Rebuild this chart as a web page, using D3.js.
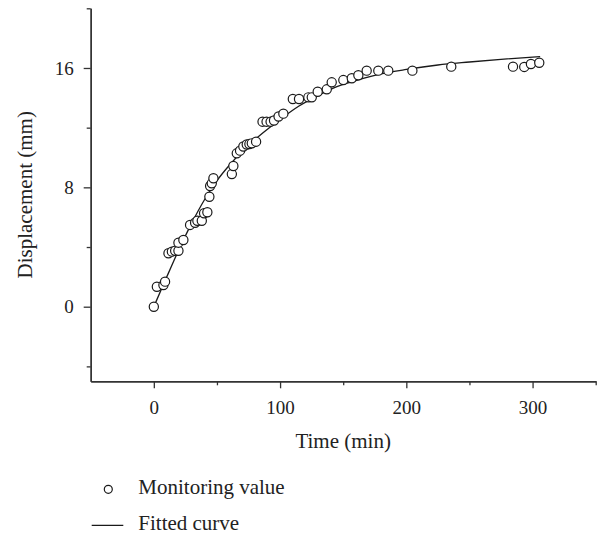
<!DOCTYPE html>
<html>
<head>
<meta charset="utf-8">
<script src="https://cdn.jsdelivr.net/npm/d3@7"></script>
<style>
  body { margin: 0; background: #fff; }
  text { font-family: "Liberation Serif", "DejaVu Serif", serif; fill: #222; }
</style>
</head>
<body>
<div id="chart"></div>
<script>
// monitoring values
var timeMin = [0, 2.4, 7.6, 8.9, 11.6, 14.3, 16.9, 19.5, 19.5, 23.4, 28.7, 32.7, 34.5, 38.0, 39.8, 42.4,
  44.0, 44.6, 45.9, 47.2, 61.8, 63.0, 65.7, 68.3, 70.9, 73.6, 75.7, 77.6, 81.0, 86.1, 89.3, 92.5,
  95.2, 98.8, 102.6, 110.1, 115.0, 122.4, 125.1, 129.8, 137.0, 140.9, 150.1, 156.8, 162.0, 168.6,
  177.8, 185.7, 204.8, 235.6, 284.5, 293.4, 298.7, 305.3]
var dispMm = [0, 1.34, 1.45, 1.68, 3.58, 3.69, 3.75, 3.75, 4.29, 4.47, 5.48, 5.63, 5.76, 5.76, 6.26, 6.33,
  7.37, 8.09, 8.27, 8.61, 8.89, 9.43, 10.28, 10.46, 10.74, 10.87, 10.90, 10.95, 11.06, 12.40, 12.40, 12.40,
  12.48, 12.75, 12.94, 13.92, 13.92, 14.03, 14.03, 14.41, 14.57, 15.04, 15.19, 15.31, 15.51, 15.82,
  15.82, 15.82, 15.82, 16.09, 16.09, 16.07, 16.27, 16.35]

// fitted curve, sampled from the figure
var fitTime = [0, 10, 20, 30, 40, 50, 60, 70, 80, 90, 100, 115, 130, 145, 160, 180, 200, 225, 250, 275, 306]
var fitDisp = [0, 1.95, 3.85, 5.6, 7.15, 8.45, 9.5, 10.4, 11.2, 11.9, 12.55, 13.45, 14.15, 14.75, 15.15,
  15.6, 15.9, 16.2, 16.4, 16.58, 16.76]

var xMajor = [0, 100, 200, 300], xMinor = [50, 150, 250, 350]
var yMajor = [0, 8, 16], yMinor = [-4, 4, 12, 20]

var W = 597, H = 534
var margin = {top: 8.3, right: 1.3, bottom: 152.7, left: 90.7},
    width = W - margin.left - margin.right,
    height = H - margin.top - margin.bottom

var svg = d3.select("#chart")
  .append("svg")
    .attr("width", W)
    .attr("height", H)
  .append("g")
    .attr("transform", "translate(" + margin.left + "," + margin.top + ")")

var x = d3.scaleLinear().domain([-50, 350]).range([0, width])
var y = d3.scaleLinear().domain([-5, 20]).range([height, 0])

// axes: minor ticks first, then major with labels
svg.append("g")
  .attr("transform", "translate(0," + height + ")")
  .call(d3.axisBottom(x).tickValues(xMinor).tickSize(4).tickSizeOuter(0).tickFormat(""))
svg.append("g")
  .attr("transform", "translate(0," + height + ")")
  .call(d3.axisBottom(x).tickValues(xMajor).tickSize(7).tickSizeOuter(0).tickPadding(12))
svg.append("g")
  .call(d3.axisLeft(y).tickValues(yMinor).tickSize(4).tickSizeOuter(0).tickFormat(""))
svg.append("g")
  .call(d3.axisLeft(y).tickValues(yMajor).tickSize(7).tickSizeOuter(0).tickPadding(10))

svg.selectAll(".domain").attr("stroke", "#333").attr("stroke-width", 1.4)
svg.selectAll(".tick line").attr("stroke", "#333").attr("stroke-width", 1.3)
svg.selectAll(".tick text")
  .style("font-family", '"Liberation Serif", serif')
  .style("font-size", "19px")
  .attr("fill", "#222")

// fitted curve
var fit = fitTime.map(function(d, i) { return [d, fitDisp[i]] })
svg.append("path")
  .datum(fit)
  .attr("fill", "none")
  .attr("stroke", "#1a1a1a")
  .attr("stroke-width", 1.3)
  .attr("d", d3.line()
    .x(function(d) { return x(d[0]) })
    .y(function(d) { return y(d[1]) })
    .curve(d3.curveMonotoneX))

// monitoring points
svg.selectAll("circle.pt")
  .data(timeMin)
  .enter()
  .append("circle")
    .attr("class", "pt")
    .attr("cx", function(d) { return x(d) })
    .attr("cy", function(d, i) { return y(dispMm[i]) })
    .attr("r", 4.6)
    .attr("fill", "#fff")
    .attr("stroke", "#1a1a1a")
    .attr("stroke-width", 1.2)

// axis titles
svg.append("text")
  .attr("x", width / 2)
  .attr("y", 448 - margin.top)
  .attr("text-anchor", "middle")
  .style("font-size", "21px")
  .text("Time (min)")
svg.append("text")
  .attr("transform", "translate(" + (32 - margin.left) + "," + (height / 2) + ") rotate(-90)")
  .attr("text-anchor", "middle")
  .style("font-size", "21px")
  .text("Displacement (mm)")

// legend
var leg = d3.select("svg").append("g")
leg.append("circle")
  .attr("cx", 108.3).attr("cy", 489.3).attr("r", 4)
  .attr("fill", "#fff").attr("stroke", "#1a1a1a").attr("stroke-width", 1.2)
leg.append("text")
  .attr("x", 138.3).attr("y", 494)
  .style("font-size", "21px")
  .text("Monitoring value")
leg.append("line")
  .attr("x1", 91.7).attr("x2", 123.3).attr("y1", 525.3).attr("y2", 525.3)
  .attr("stroke", "#1a1a1a").attr("stroke-width", 1.3)
leg.append("text")
  .attr("x", 138.3).attr("y", 530)
  .style("font-size", "21px")
  .text("Fitted curve")
</script>
</body>
</html>
